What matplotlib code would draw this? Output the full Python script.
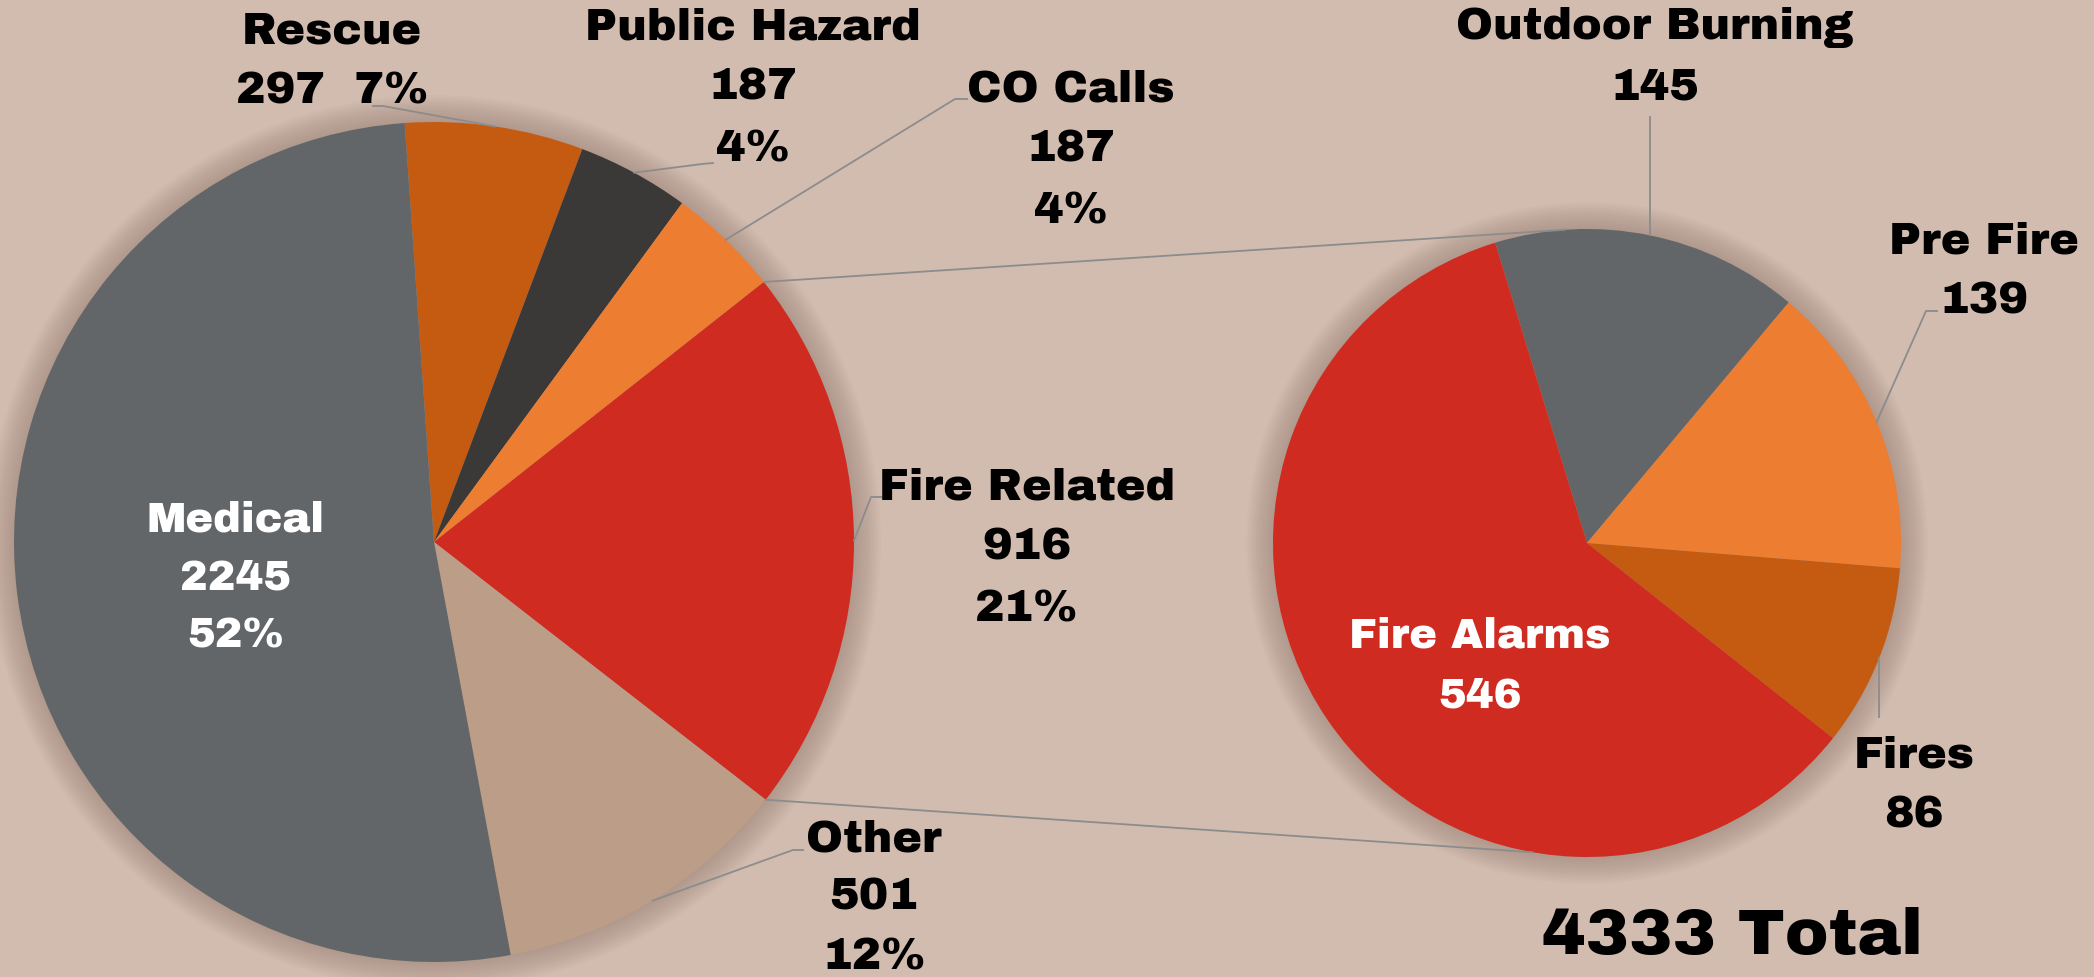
import matplotlib
matplotlib.use("Agg")
import matplotlib.pyplot as plt
from matplotlib import font_manager as fm
from matplotlib.patches import Circle
import numpy as np

# ---------------- data ----------------
main_labels = ["Rescue", "Public Hazard", "CO Calls", "Fire Related", "Other", "Medical"]
main_values = [297, 187, 187, 916, 501, 2245]
main_colors = ["#C55A11", "#3B3838", "#ED7D31", "#CF2B20", "#BC9D88", "#636668"]

sub_labels = ["Outdoor Burning", "Pre Fire", "Fires", "Fire Alarms"]
sub_values = [145, 139, 86, 546]
sub_colors = ["#636668", "#ED7D31", "#C55A11", "#CF2B20"]

total_label = "Total"

# ---------------- styling ----------------
BG = "#D2BCAF"
W, H = 2094, 977


def pick_font():
    for fam, w in [("Archivo Black", "normal"), ("Roboto", "black"), ("Inter", "black")]:
        try:
            fm.findfont(fm.FontProperties(family=fam, weight=w), fallback_to_default=False)
            return fam, w
        except Exception:
            pass
    return "DejaVu Sans", "bold"


FAM, WGT = pick_font()

fig = plt.figure(figsize=(W / 100, H / 100), dpi=100, facecolor=BG)
ax = fig.add_axes([0, 0, 1, 1])
ax.set_xlim(0, W)
ax.set_ylim(0, H)
ax.set_aspect("equal")
ax.axis("off")
ax.set_facecolor(BG)


def Y(ypix):
    return H - ypix


# pie geometry (pixel positions, y measured from top)
L_C = (434, Y(542))
L_R = 420
R_C = (1587, Y(543))
R_R = 314
L_START = 94
R_START = 107


def soft_shadow(center, r):
    for k in range(14):
        ax.add_patch(Circle(center, r + 1 + 2.0 * k, color="#5a4036", alpha=0.02,
                            lw=0, zorder=1))


soft_shadow(L_C, L_R)
soft_shadow(R_C, R_R)

wl, _ = ax.pie(main_values, colors=main_colors, startangle=L_START, counterclock=False,
               center=L_C, radius=L_R, wedgeprops=dict(linewidth=0), frame=True)
wr, _ = ax.pie(sub_values, colors=sub_colors, startangle=R_START, counterclock=False,
               center=R_C, radius=R_R, wedgeprops=dict(linewidth=0), frame=True)
for w in wl + wr:
    w.set_zorder(3)
ax.set_xlim(0, W)
ax.set_ylim(0, H)
ax.axis("off")


def pt(center, r, ang):
    a = np.deg2rad(ang)
    return center[0] + r * np.cos(a), center[1] + r * np.sin(a)


def mid(w):
    return 0.5 * (w.theta1 + w.theta2)


LINE = "#8C8C8C"

# connector lines between the pies
fire_idx = main_labels.index("Fire Related")
fw = wl[fire_idx]
p_top = pt(L_C, L_R, fw.theta2)
p_bot = pt(L_C, L_R, fw.theta1)
q_top = pt(R_C, R_R, 94)
q_bot = pt(R_C, R_R, 260)
ax.plot([p_top[0], q_top[0]], [p_top[1], q_top[1]], color=LINE, lw=1.3, zorder=4)
ax.plot([p_bot[0], q_bot[0]], [p_bot[1], q_bot[1]], color=LINE, lw=1.3, zorder=4)

total = sum(main_values)
pcts = [round(100 * v / total) for v in main_values]

TXT = dict(family=FAM, weight=WGT, ha="center", va="baseline", zorder=6)
FS = 32
STEP = 61

# label layout: (center x, first baseline y, colour, leader points near label, line step)
main_layout = {
    "Rescue": (332, 43, "black", [(373, 106), (383, 106)], 61),
    "Public Hazard": (753, 39, "black", [(713, 163), (702, 164)], 61),
    "CO Calls": (1071, 101, "black", [(967, 99), (955, 99)], 61),
    "Fire Related": (1027, 499, "black", [(882, 497), (871, 497)], 61),
    "Other": (874, 851, "black", [(803, 850), (793, 850)], 59),
    "Medical": (236, 531, "white", None, 58),
}
for i, name in enumerate(main_labels):
    cx, by, col, lead, step = main_layout[name]
    if name == "Rescue":
        lines = [name, f"{main_values[i]}  {pcts[i]}%"]
    else:
        lines = [name, f"{main_values[i]}", f"{pcts[i]}%"]
    fs = 30 if col == "white" else FS
    for j, s in enumerate(lines):
        ax.text(cx, Y(by + j * step), s, color=col, fontsize=fs, **TXT)
    if lead:
        p = pt(L_C, L_R, mid(wl[i]))
        xs = [q[0] for q in lead] + [p[0]]
        ys = [Y(q[1]) for q in lead] + [p[1]]
        ax.plot(xs, ys, color=LINE, lw=1.3, zorder=5)

sub_layout = {
    "Outdoor Burning": (1655, 39, "black", "v", 117),
    "Pre Fire": (1984, 253, "black", [(1937, 311), (1926, 311)], None),
    "Fires": (1914, 767, "black", "v", 717),
    "Fire Alarms": (1480, 647, "white", None, None),
}
for i, name in enumerate(sub_labels):
    cx, by, col, lead, ly = sub_layout[name]
    lines = [name, f"{sub_values[i]}"]
    fs = 30 if col == "white" else FS
    step = 60
    for j, s in enumerate(lines):
        ax.text(cx, Y(by + j * step), s, color=col, fontsize=fs, **TXT)
    p = pt(R_C, R_R, mid(wr[i]))
    if lead == "v":
        ax.plot([p[0], p[0]], [Y(ly), p[1]], color=LINE, lw=1.3, zorder=5)
    elif lead:
        xs = [q[0] for q in lead] + [p[0]]
        ys = [Y(q[1]) for q in lead] + [p[1]]
        ax.plot(xs, ys, color=LINE, lw=1.3, zorder=5)

ax.text(1732, Y(954), f"{total} {total_label}", color="black", fontsize=47, **TXT)

fig.savefig("out.png", dpi=100, facecolor=BG)
